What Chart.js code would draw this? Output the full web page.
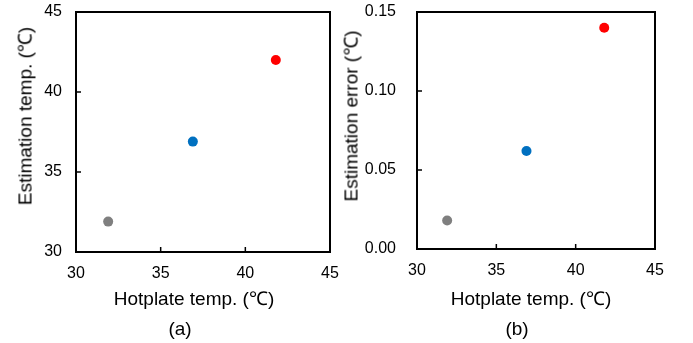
<!DOCTYPE html>
<html>
<head>
<meta charset="utf-8">
<script src="https://cdn.jsdelivr.net/npm/chart.js@4.4.1/dist/chart.umd.min.js"></script>
<style>
  body { margin: 0; background: #fff; }
  #wrap { position: relative; width: 693px; height: 343px; overflow: hidden; font-family: "Liberation Sans", Arial, sans-serif; color: #000; }
  canvas { position: absolute; top: 0; }
  .lbl { position: absolute; white-space: nowrap; font-size: 19px; line-height: 19px; transform: translate(-50%, -50%); }
  .ylbl { transform: translate(-50%, -50%) rotate(-90deg); }
</style>
</head>
<body>
<div id="wrap">
  <canvas id="chartA" width="346" height="343" style="left:0"></canvas>
  <canvas id="chartB" width="353" height="343" style="left:340px"></canvas>
  <div class="lbl ylbl" style="left:25px; top:116px">Estimation temp. (℃)</div>
  <div class="lbl" style="left:194px; top:298px">Hotplate temp. (℃)</div>
  <div class="lbl" style="left:180px; top:328px">(a)</div>
  <div class="lbl ylbl" style="left:351px; top:116px">Estimation error (℃)</div>
  <div class="lbl" style="left:531px; top:298px">Hotplate temp. (℃)</div>
  <div class="lbl" style="left:517px; top:328px">(b)</div>
</div>
<script>
// values
const hotplateTemp = [31.9, 36.9, 41.8];
const estimationTemp = [31.9, 36.9, 42.0];
const estimationError = [0.018, 0.062, 0.140];
const tempTicks = [30, 35, 40, 45];
const errorTicks = [0, 0.05, 0.10, 0.15];

const dotColors = ['#7f7f7f', '#0070c0', '#ff0000'];

// box around the plot area + short inward tick marks
const framePlugin = {
    id: 'frame',
    afterDraw(chart) {
        const { ctx, chartArea: a, scales } = chart;
        ctx.save();
        ctx.strokeStyle = '#000';
        ctx.lineWidth = 1.5;
        scales.x.ticks.forEach(t => {
            if (t.value <= scales.x.min || t.value >= scales.x.max) return;
            const px = scales.x.getPixelForValue(t.value);
            ctx.beginPath();
            ctx.moveTo(px, a.bottom);
            ctx.lineTo(px, a.bottom - 5);
            ctx.stroke();
        });
        scales.y.ticks.forEach(t => {
            if (t.value <= scales.y.min || t.value >= scales.y.max) return;
            const py = scales.y.getPixelForValue(t.value);
            ctx.beginPath();
            ctx.moveTo(a.left, py);
            ctx.lineTo(a.left + 5, py);
            ctx.stroke();
        });
        ctx.lineWidth = 2;
        ctx.strokeRect(a.left, a.top, a.right - a.left, a.bottom - a.top);
        ctx.restore();
    }
};

function makeChart(id, yValues, yTicks, opts) {
    const pts = hotplateTemp.map((x, i) => ({ x: x, y: yValues[i] }));
    return new Chart(document.getElementById(id), {
        type: 'scatter',
        data: {
            datasets: [{
                data: pts,
                backgroundColor: dotColors,
                borderWidth: 0,
                pointRadius: 5
            }]
        },
        options: {
            responsive: false,
            animation: false,
            layout: { padding: { top: 12, right: opts.padRight, left: 0, bottom: 0 } },
            plugins: { legend: { display: false }, tooltip: { enabled: false } },
            scales: {
                x: {
                    type: 'linear',
                    min: tempTicks[0],
                    max: tempTicks[tempTicks.length - 1],
                    afterBuildTicks: s => { s.ticks = tempTicks.map(v => ({ value: v })); },
                    afterFit: s => {
                        s.height = opts.xHeight;
                        s.paddingLeft = 0;
                        s.paddingRight = 0;
                    },
                    grid: { display: false, drawTicks: false },
                    border: { display: false },
                    ticks: {
                        color: '#000',
                        padding: opts.xPad,
                        maxRotation: 0,
                        font: { family: 'Liberation Sans', size: 16 }
                    }
                },
                y: {
                    type: 'linear',
                    min: yTicks[0],
                    max: yTicks[yTicks.length - 1],
                    afterBuildTicks: s => { s.ticks = yTicks.map(v => ({ value: v })); },
                    afterFit: s => {
                        s.width = opts.yWidth;
                        s.paddingTop = 0;
                        s.paddingBottom = 0;
                    },
                    grid: { display: false, drawTicks: false },
                    border: { display: false },
                    ticks: {
                        color: '#000',
                        padding: opts.yPad,
                        font: { family: 'Liberation Sans', size: 16 },
                        callback: opts.fmt
                    }
                }
            }
        },
        plugins: [framePlugin]
    });
}

makeChart('chartA', estimationTemp, tempTicks, {
    padRight: 16, xHeight: 91, yWidth: 76, xPad: 12, yPad: 14,
    fmt: v => String(v)
});

makeChart('chartB', estimationError, errorTicks, {
    padRight: 38, xHeight: 94, yWidth: 77, xPad: 12, yPad: 21,
    fmt: v => v.toFixed(2)
});
</script>
</body>
</html>
